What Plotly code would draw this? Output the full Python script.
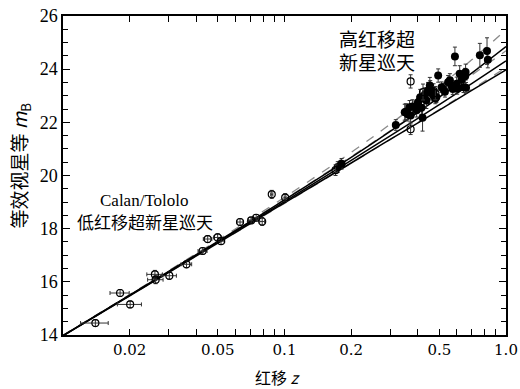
import plotly.graph_objects as go

# ---- data ----
# model curves, redshift sample points
curve_z = [0.01, 0.02, 0.05, 0.1, 0.2, 0.3, 0.5, 0.7, 1.0]
solid_00 = [13.98, 15.50, 17.52, 19.08, 20.68, 21.66, 22.95, 23.85, 24.85]
solid_10 = [13.975, 15.49, 17.49, 19.02, 20.57, 21.49, 22.67, 23.46, 24.31]
solid_20 = [13.97, 15.47, 17.46, 18.97, 20.47, 21.36, 22.46, 23.20, 23.97]
dash_01 = [13.99, 15.52, 17.57, 19.18, 20.87, 21.93, 23.35, 24.35, 25.48]
dash_0505 = [13.98, 15.50, 17.53, 19.10, 20.71, 21.68, 22.94, 23.78, 24.69]
dash_15m05 = [13.97, 15.47, 17.45, 18.95, 20.46, 21.35, 22.48, 23.24, 24.06]

# Calan/Tololo low-redshift SNe (open circles)
low_z = [0.0140, 0.0181, 0.0201, 0.0260, 0.0262, 0.0302, 0.0361, 0.0427, 0.0450,
         0.0499, 0.0517, 0.0630, 0.0707, 0.0745, 0.0793, 0.0876, 0.1007]
low_m = [14.45, 15.58, 15.15, 16.28, 16.08, 16.23, 16.66, 17.16, 17.61,
         17.67, 17.53, 18.25, 18.31, 18.41, 18.27, 19.29, 19.17]
low_dm = [0.13, 0.13, 0.13, 0.15, 0.15, 0.14, 0.13, 0.12, 0.13,
          0.14, 0.12, 0.12, 0.12, 0.12, 0.15, 0.15, 0.15]
low_dz = [0.0020, 0.0018, 0.0025, 0.0021, 0.0021, 0.0023, 0.0020, 0.0020, 0.0020,
          0.0020, 0.0020, 0.0020, 0.0020, 0.0020, 0.0020, 0.0010, 0.0010]

# high-redshift SNe (filled circles)
hi_z = [0.174, 0.181, 0.318, 0.349, 0.353, 0.360, 0.367, 0.371, 0.378, 0.387,
        0.395, 0.401, 0.401, 0.410, 0.415, 0.420, 0.427, 0.430, 0.437, 0.445,
        0.453, 0.455, 0.460, 0.469, 0.471, 0.480, 0.485, 0.494, 0.512, 0.520,
        0.530, 0.548, 0.558, 0.567, 0.575, 0.588, 0.599, 0.602, 0.618, 0.630,
        0.643, 0.654, 0.657, 0.660, 0.762, 0.821, 0.828]
hi_m = [20.32, 20.44, 21.90, 22.38, 22.40, 22.30, 22.57, 22.26, 22.60, 22.60,
        22.45, 22.65, 22.76, 22.94, 22.55, 22.17, 22.89, 23.05, 22.82, 23.20,
        23.39, 23.32, 23.10, 23.01, 23.20, 22.90, 22.95, 23.76, 23.32, 23.26,
        23.15, 23.51, 23.58, 23.39, 23.25, 24.48, 23.45, 23.26, 23.83, 23.60,
        23.32, 23.73, 23.89, 23.30, 24.52, 24.68, 24.35]
hi_dm = [0.20, 0.20, 0.20, 0.30, 0.30, 0.25, 0.25, 0.25, 0.25, 0.20,
         0.25, 0.25, 0.20, 0.30, 0.25, 0.50, 0.30, 0.25, 0.30, 0.30,
         0.30, 0.25, 0.25, 0.20, 0.25, 0.20, 0.20, 0.25, 0.20, 0.20,
         0.20, 0.25, 0.25, 0.20, 0.20, 0.35, 0.25, 0.20, 0.30, 0.25,
         0.20, 0.30, 0.30, 0.20, 0.45, 0.50, 0.30]

# high-redshift SNe not used in fit (open circles)
hio_z = [0.170, 0.371, 0.371, 0.422, 0.480]
hio_m = [20.20, 23.54, 21.74, 23.14, 23.10]
hio_dm = [0.20, 0.25, 0.20, 0.30, 0.25]

x_ticks = [0.01, 0.02, 0.03, 0.04, 0.05, 0.06, 0.07, 0.08, 0.09,
           0.1, 0.2, 0.3, 0.4, 0.5, 0.6, 0.7, 0.8, 0.9, 1.0]
x_labels = {0.02: "0.02", 0.05: "0.05", 0.1: "0.1", 0.2: "0.2", 0.5: "0.5", 1.0: "1.0"}
y_ticks = [14, 16, 18, 20, 22, 24, 26]

fig = go.Figure()

for ys in [dash_01, dash_0505, dash_15m05]:
    fig.add_trace(go.Scatter(x=curve_z, y=ys, mode="lines", line_shape="spline",
                             line=dict(color="#8a8a8a", width=1.3, dash="dash"),
                             showlegend=False, hoverinfo="skip"))
for ys in [solid_00, solid_10, solid_20]:
    fig.add_trace(go.Scatter(x=curve_z, y=ys, mode="lines", line_shape="spline",
                             line=dict(color="black", width=1.5),
                             showlegend=False, hoverinfo="skip"))

err_style = dict(color="#333333", thickness=1, width=2)

fig.add_trace(go.Scatter(
    x=low_z, y=low_m, mode="markers",
    marker=dict(symbol="circle-open", size=7, color="black", line=dict(width=1.2)),
    error_y=dict(type="data", array=low_dm, **err_style),
    error_x=dict(type="data", array=low_dz, **err_style),
    showlegend=False))

fig.add_trace(go.Scatter(
    x=hi_z, y=hi_m, mode="markers",
    marker=dict(symbol="circle", size=8, color="black"),
    error_y=dict(type="data", array=hi_dm, **err_style),
    showlegend=False))

fig.add_trace(go.Scatter(
    x=hio_z, y=hio_m, mode="markers",
    marker=dict(symbol="circle-open", size=7, color="black", line=dict(width=1.2)),
    error_y=dict(type="data", array=hio_dm, **err_style),
    showlegend=False))

serif = "Liberation Serif, DejaVu Serif, serif"
cjk = "Noto Sans CJK SC"

fig.update_xaxes(
    type="log", range=[-2, 0], automargin=False, tickangle=0,
    tickvals=x_ticks, ticktext=[x_labels.get(v, "") for v in x_ticks],
    ticks="inside", ticklen=6, tickcolor="black", tickwidth=1,
    showline=True, linecolor="black", linewidth=1.5, mirror="ticks",
    showgrid=False, zeroline=False, ticklabeloverflow="allow",
    tickfont=dict(family="DejaVu Serif", size=15, color="black"),
)
fig.update_yaxes(
    range=[14, 26], tickvals=y_ticks, automargin=False,
    ticks="inside", ticklen=7, tickcolor="black", tickwidth=1,
    minor=dict(dtick=0.5, tick0=14, ticks="inside", ticklen=5, tickcolor="black"),
    showline=True, linecolor="black", linewidth=1.5, mirror="ticks",
    showgrid=False, zeroline=False, ticklabeloverflow="allow",
    tickfont=dict(family=serif, size=18, color="black"),
)

# axis titles
fig.add_annotation(xref="paper", yref="paper", x=0.485, y=-0.132, showarrow=False,
                   xanchor="center", yanchor="middle",
                   text="红移 <i>z</i>", font=dict(family=cjk, size=16, color="black"))
fig.add_annotation(xref="paper", yref="paper", x=-0.098, y=0.53, showarrow=False,
                   xanchor="center", yanchor="middle", textangle=-90,
                   text="等效视星等 <i>m</i><sub>B</sub>", font=dict(family=cjk, size=19, color="black"))

# survey labels
label_font = dict(family=cjk, size=19, color="black")
fig.add_annotation(xref="paper", yref="paper", x=0.709, y=0.928, showarrow=False,
                   xanchor="center", yanchor="middle", text="高红移超", font=label_font)
fig.add_annotation(xref="paper", yref="paper", x=0.709, y=0.856, showarrow=False,
                   xanchor="center", yanchor="middle", text="新星巡天", font=label_font)
fig.add_annotation(xref="paper", yref="paper", x=0.185, y=0.422, showarrow=False,
                   xanchor="center", yanchor="middle", text="Calan/Tololo",
                   font=dict(family=serif, size=17, color="black"))
fig.add_annotation(xref="paper", yref="paper", x=0.185, y=0.355, showarrow=False,
                   xanchor="center", yanchor="middle", text="低红移超新星巡天",
                   font=dict(family=cjk, size=17, color="black"))

fig.update_layout(
    width=520, height=389,
    margin=dict(l=63, r=14, t=16, b=54),
    plot_bgcolor="white", paper_bgcolor="white",
)

fig.write_html("out.html", config={"displayModeBar": False},
               post_script="document.body.style.margin='0';document.body.style.overflow='hidden';")
